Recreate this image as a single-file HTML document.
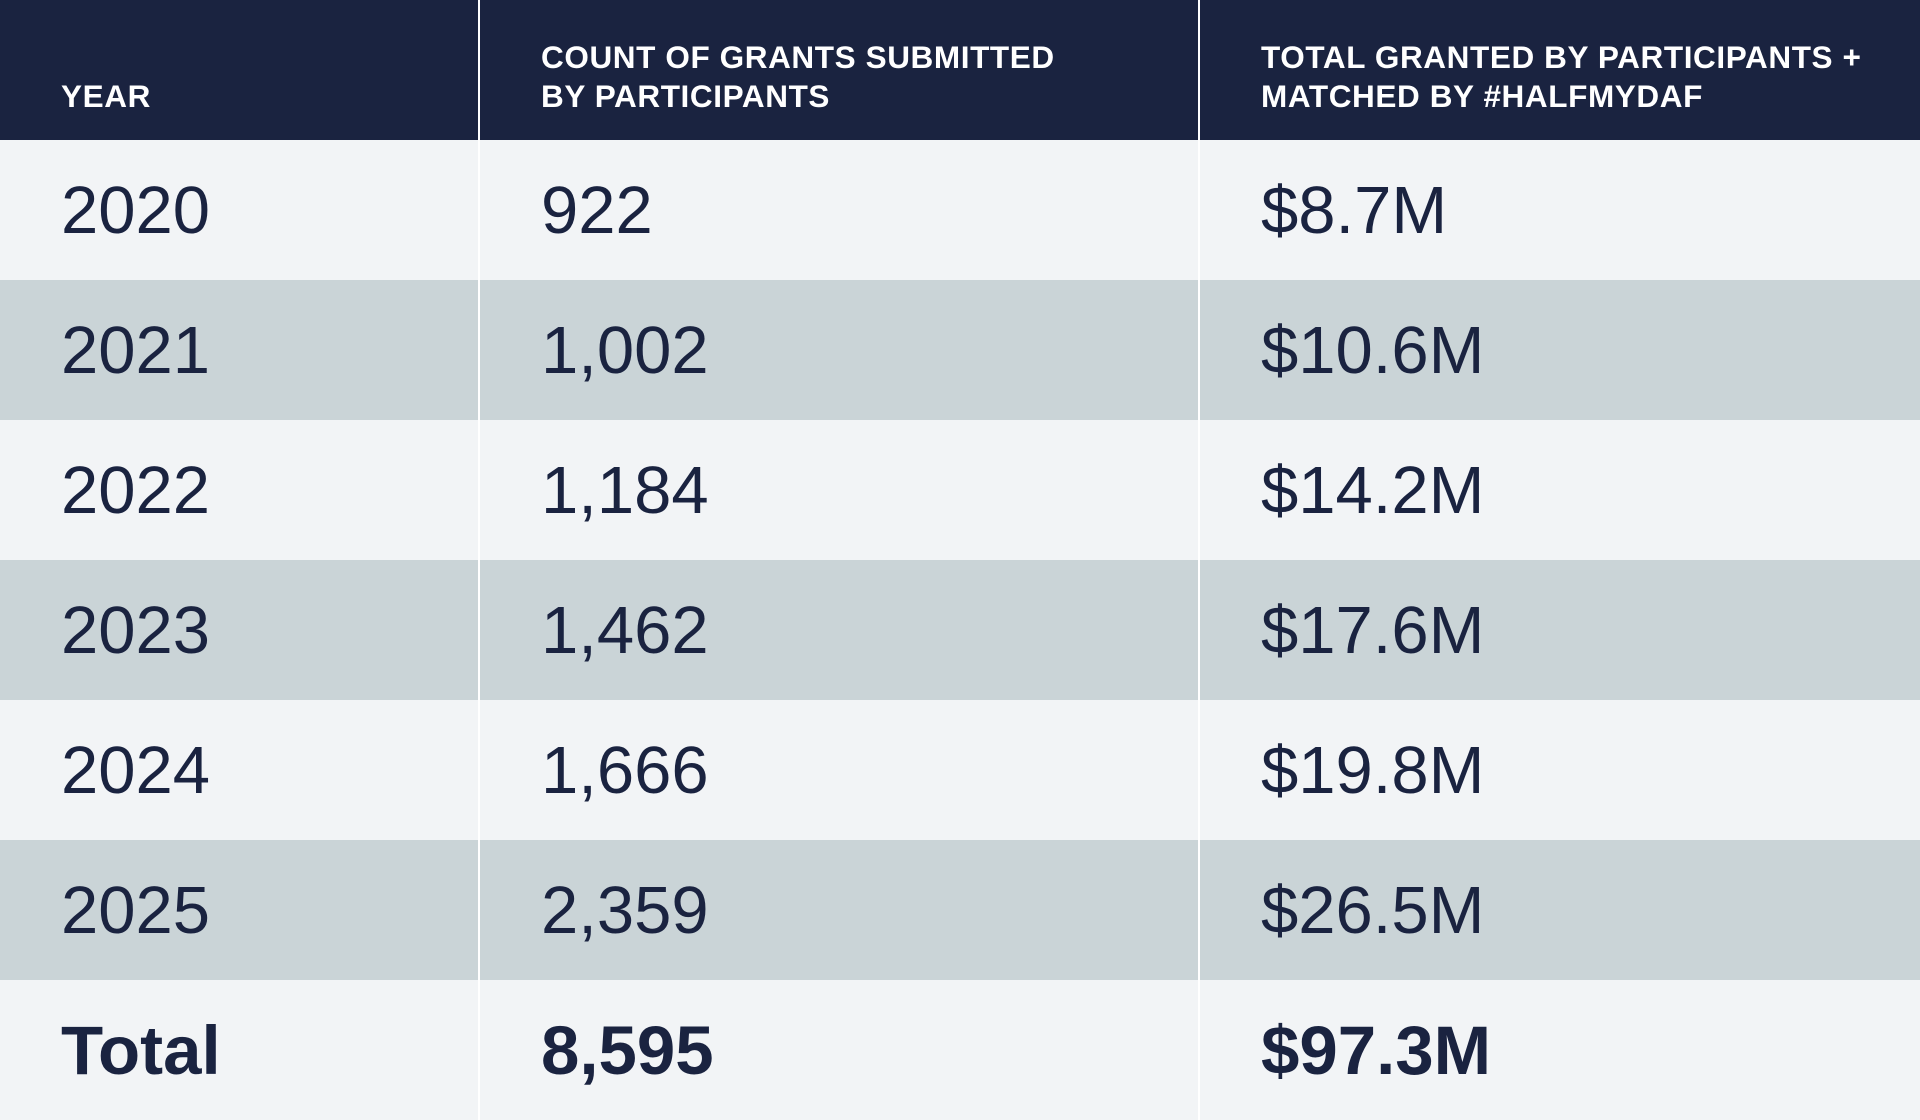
<!DOCTYPE html>
<html>
<head>
<meta charset="utf-8">
<style>
  html,body{margin:0;padding:0;}
  body{width:1920px;height:1120px;overflow:hidden;background:#f2f4f6;font-family:"Liberation Sans","DejaVu Sans",sans-serif;color:#1a2340;}
  .row{display:flex;height:140px;}
  .cell{box-sizing:border-box;display:flex;align-items:center;padding-left:61px;border-right:2px solid #ffffff;}
  .c1{width:480px;}
  .c2{width:720px;padding-left:61px;}
  .c3{width:720px;padding-left:61px;border-right:none;}
  .header .cell{background:#1a2340;color:#ffffff;font-weight:bold;font-size:31.5px;line-height:39px;letter-spacing:0.6px;align-items:flex-end;padding-bottom:24px;border-right:2px solid #ffffff;}
  .header .c3{border-right:none;}
  .light .cell{background:#f2f4f6;}
  .dark .cell{background:#cad4d7;}
  .data .cell{font-size:67px;}
  .total .cell{font-weight:bold;font-size:69px;}
</style>
</head>
<body>
<div>
  <div class="row header">
    <div class="cell c1">YEAR</div>
    <div class="cell c2">COUNT OF GRANTS SUBMITTED<br>BY PARTICIPANTS</div>
    <div class="cell c3">TOTAL GRANTED BY PARTICIPANTS +<br>MATCHED BY #HALFMYDAF</div>
  </div>
  <div class="row data light">
    <div class="cell c1">2020</div>
    <div class="cell c2">922</div>
    <div class="cell c3">$8.7M</div>
  </div>
  <div class="row data dark">
    <div class="cell c1">2021</div>
    <div class="cell c2">1,002</div>
    <div class="cell c3">$10.6M</div>
  </div>
  <div class="row data light">
    <div class="cell c1">2022</div>
    <div class="cell c2">1,184</div>
    <div class="cell c3">$14.2M</div>
  </div>
  <div class="row data dark">
    <div class="cell c1">2023</div>
    <div class="cell c2">1,462</div>
    <div class="cell c3">$17.6M</div>
  </div>
  <div class="row data light">
    <div class="cell c1">2024</div>
    <div class="cell c2">1,666</div>
    <div class="cell c3">$19.8M</div>
  </div>
  <div class="row data dark">
    <div class="cell c1">2025</div>
    <div class="cell c2">2,359</div>
    <div class="cell c3">$26.5M</div>
  </div>
  <div class="row data light total">
    <div class="cell c1">Total</div>
    <div class="cell c2">8,595</div>
    <div class="cell c3">$97.3M</div>
  </div>
</div>
</body>
</html>
